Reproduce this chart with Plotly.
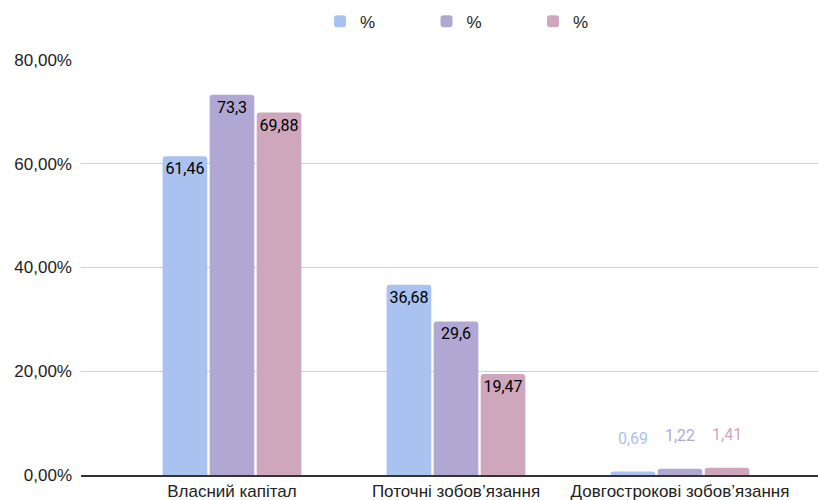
import plotly.graph_objects as go

categories = ["Власний капітал", "Поточні зобов’язання", "Довгострокові зобов’язання"]
series_names = ["%", "%", "%"]
series_a = [61.46, 36.68, 0.69]
series_b = [73.3, 29.6, 1.22]
series_c = [69.88, 19.47, 1.41]
y_ticks = [0, 0.2, 0.4, 0.6, 0.8]

colors = ["#a9c2ef", "#b0a8d3", "#cfa7bd"]
axis_font = "Liberation Sans, Arial, sans-serif"

fig = go.Figure()
for name, vals, col in zip(series_names, [series_a, series_b, series_c], colors):
    big = [v > 5 for v in vals]
    pos = ["inside" if b else "outside" for b in big]
    tcol = ["#000000" if b else col for b in big]
    txt = [str(v).replace(".", ",") + ("" if b else "<br> ") for v, b in zip(vals, big)]
    fig.add_trace(go.Bar(
        x=categories,
        y=[v / 100 for v in vals],
        name=name,
        marker=dict(color=col, line=dict(width=0)),
        text=txt,
        textposition=pos,
        textangle=0,
        insidetextanchor="end",
        textfont=dict(color=tcol, size=16, family="Roboto"),
        outsidetextfont=dict(color=tcol, size=16, family="Roboto"),
        insidetextfont=dict(color=tcol, size=16, family="Roboto"),
        constraintext="none",
        cliponaxis=False,
        hoverinfo="skip",
    ))

fig.update_layout(
    width=818, height=500,
    margin=dict(l=81, r=0, t=60, b=25, autoexpand=False),
    paper_bgcolor="white", plot_bgcolor="white",
    barmode="group",
    bargap=0.37,
    bargroupgap=0.05,
    barcornerradius=3,
    separators=", ",
    font=dict(family=axis_font, size=17, color="#222222"),
    showlegend=True,
    legend=dict(orientation="h", x=0.3243, xanchor="left", y=1.092, yanchor="middle",
                font=dict(size=17, color="#222222", family=axis_font),
                entrywidth=61.5, entrywidthmode="pixels", tracegroupgap=0),
    xaxis=dict(type="category", range=[-0.674, 2.616], showgrid=False,
               showline=True, linecolor="#333333", linewidth=1.5,
               ticks="", tickfont=dict(size=17, color="#222222", family=axis_font),
               automargin=False),
    yaxis=dict(range=[0, 0.8], tickvals=y_ticks, tickformat=".2%",
               showgrid=True, gridcolor="#d0d0d0", gridwidth=1,
               zeroline=False, showline=False, ticks="",
               ticklabelstandoff=8,
               tickfont=dict(size=17, color="#222222", family=axis_font),
               automargin=False),
)

fig.write_html("out.html")
